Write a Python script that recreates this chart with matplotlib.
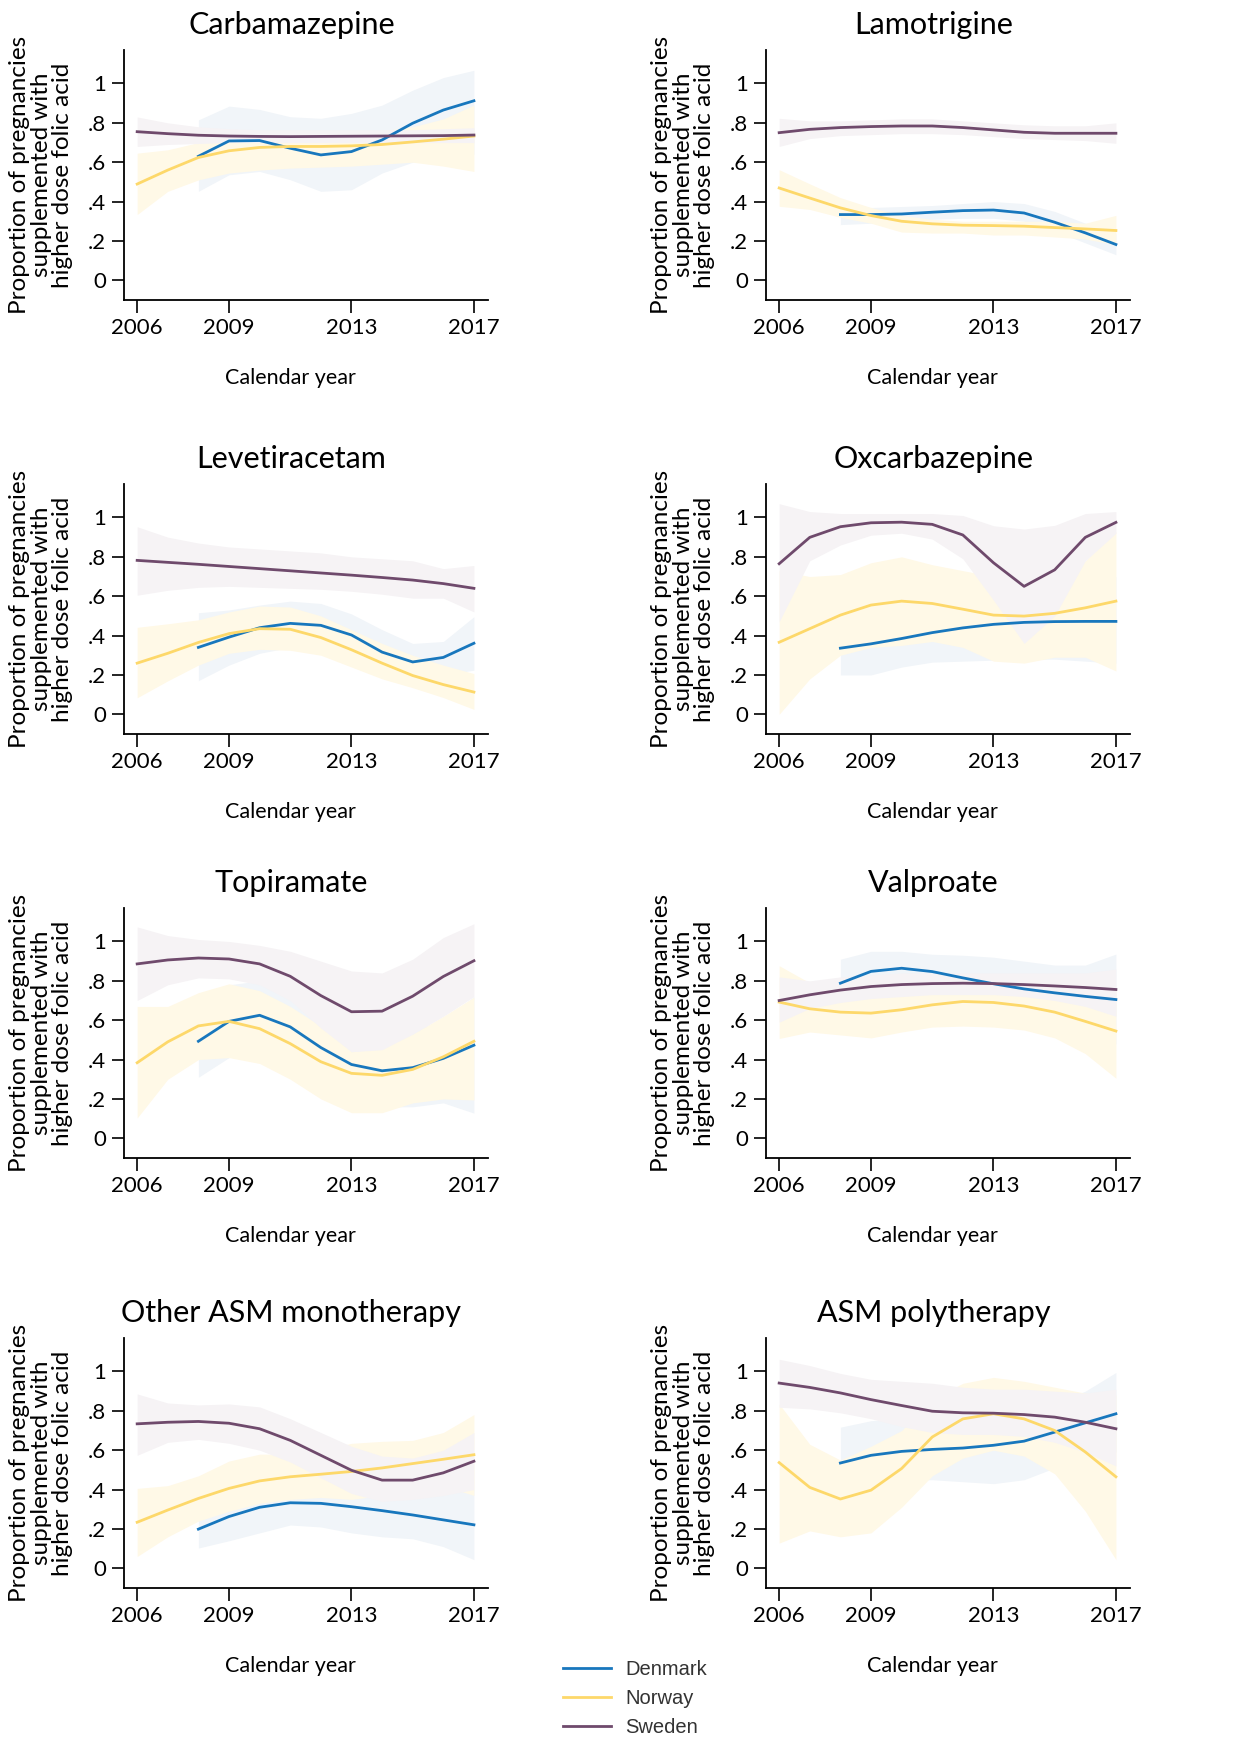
import numpy as np
import matplotlib
matplotlib.use("Agg")
import matplotlib.pyplot as plt
from matplotlib.lines import Line2D

plt.rcParams['font.family'] = ['Lato', 'DejaVu Sans']

years = list(range(2006, 2018))
NA = np.nan

# Carbamazepine
carb_dk    = [NA, NA, .63, .708, .71, .671, .637, .654, .713, .798, .865, .912]
carb_dk_lo = [NA, NA, .452, .536, .553, .511, .452, .46, .545, .60, .62, .64]
carb_dk_hi = [NA, NA, .815, .885, .868, .831, .823, .848, .89, .966, 1.03, 1.067]
carb_no    = [.489, .56, .624, .658, .675, .68, .68, .683, .69, .703, .717, .733]
carb_no_lo = [.334, .452, .51, .545, .56, .57, .575, .58, .59, .60, .58, .553]
carb_no_hi = [.646, .663, .70, .72, .735, .74, .745, .75, .76, .78, .82, .89]
carb_se    = [.755, .745, .737, .733, .731, .73, .731, .732, .733, .734, .735, .738]
carb_se_lo = [.68, .69, .695, .70, .70, .70, .70, .70, .70, .70, .70, .70]
carb_se_hi = [.83, .80, .78, .77, .765, .765, .765, .765, .765, .765, .77, .775]

# Lamotrigine
lamo_dk    = [NA, NA, .334, .334, .337, .346, .354, .357, .342, .295, .241, .182]
lamo_dk_lo = [NA, NA, .283, .29, .30, .31, .315, .315, .30, .25, .19, .13]
lamo_dk_hi = [NA, NA, .37, .37, .375, .38, .39, .40, .39, .35, .29, .235]
lamo_no    = [.469, .418, .368, .329, .30, .287, .28, .278, .275, .268, .261, .253]
lamo_no_lo = [.376, .36, .32, .29, .245, .24, .24, .23, .23, .22, .21, .18]
lamo_no_hi = [.562, .49, .42, .37, .33, .31, .30, .30, .30, .30, .29, .33]
lamo_se    = [.75, .767, .776, .781, .784, .784, .776, .764, .752, .747, .747, .747]
lamo_se_lo = [.68, .72, .735, .74, .745, .745, .74, .73, .72, .715, .71, .696]
lamo_se_hi = [.823, .81, .81, .815, .82, .82, .81, .80, .79, .785, .785, .80]

# Levetiracetam
leve_dk    = [NA, NA, .34, .392, .44, .462, .452, .403, .316, .266, .289, .361]
leve_dk_lo = [NA, NA, .171, .25, .31, .34, .34, .30, .23, .18, .20, .224]
leve_dk_hi = [NA, NA, .516, .53, .555, .575, .563, .51, .43, .36, .37, .496]
leve_no    = [.26, .31, .365, .41, .435, .432, .39, .328, .26, .197, .151, .113]
leve_no_lo = [.084, .17, .25, .31, .33, .325, .30, .24, .18, .135, .085, .025]
leve_no_hi = [.442, .46, .48, .52, .55, .545, .50, .43, .36, .30, .25, .207]
leve_se    = [.782, .772, .762, .751, .740, .729, .718, .707, .695, .682, .664, .640]
leve_se_lo = [.605, .63, .645, .65, .645, .64, .635, .625, .61, .59, .59, .52]
leve_se_hi = [.953, .90, .87, .85, .84, .83, .82, .80, .79, .78, .74, .756]

# Oxcarbazepine
oxca_dk    = [NA, NA, .336, .358, .385, .415, .439, .457, .467, .471, .472, .472]
oxca_dk_lo = [NA, NA, .20, .20, .24, .265, .27, .275, .28, .28, .27, .26]
oxca_dk_hi = [NA, NA, .48, .52, .54, .58, .61, .64, .66, .67, .68, .70]
oxca_no    = [.366, .435, .504, .555, .575, .563, .534, .504, .499, .513, .541, .575]
oxca_no_lo = [.0, .18, .30, .34, .35, .37, .34, .27, .26, .29, .29, .22]
oxca_no_hi = [.73, .70, .71, .77, .80, .76, .73, .70, .74, .74, .78, .93]
oxca_se    = [.765, .899, .953, .973, .976, .965, .911, .77, .65, .734, .899, .975]
oxca_se_lo = [.47, .78, .86, .91, .92, .89, .79, .58, .36, .50, .78, .92]
oxca_se_hi = [1.07, 1.03, 1.02, 1.02, 1.02, 1.02, 1.01, .958, .941, .96, 1.02, 1.03]

# Topiramate
topi_dk    = [NA, NA, .493, .594, .625, .566, .461, .375, .343, .359, .406, .473]
topi_dk_lo = [NA, NA, .31, .41, .44, .38, .29, .20, .16, .16, .18, .128]
topi_dk_hi = [NA, NA, .68, .78, .80, .75, .63, .55, .53, .55, .60, .72]
topi_no    = [.384, .49, .571, .594, .557, .481, .389, .33, .32, .35, .414, .493]
topi_no_lo = [.103, .30, .40, .41, .38, .30, .20, .13, .13, .18, .20, .195]
topi_no_hi = [.67, .67, .74, .785, .75, .67, .57, .44, .46, .53, .62, .717]
topi_se    = [.886, .906, .916, .911, .886, .823, .725, .643, .646, .722, .822, .902]
topi_se_lo = [.70, .78, .815, .81, .78, .70, .56, .44, .45, .53, .62, .72]
topi_se_hi = [1.074, 1.03, 1.01, 1.0, .98, .95, .90, .85, .84, .91, 1.02, 1.09]

# Valproate
valp_dk    = [NA, NA, .788, .848, .864, .847, .815, .785, .759, .739, .721, .705]
valp_dk_lo = [NA, NA, .67, .74, .77, .76, .71, .65, .62, .60, .56, .48]
valp_dk_hi = [NA, NA, .91, .95, .95, .935, .93, .92, .90, .88, .88, .936]
valp_no    = [.692, .658, .641, .636, .653, .678, .695, .69, .672, .641, .594, .545]
valp_no_lo = [.507, .54, .525, .51, .54, .565, .57, .565, .55, .51, .43, .305]
valp_no_hi = [.877, .79, .76, .76, .77, .79, .80, .80, .79, .77, .75, .76]
valp_se    = [.70, .729, .753, .771, .781, .786, .788, .786, .781, .774, .766, .756]
valp_se_lo = [.59, .66, .69, .71, .72, .73, .73, .73, .72, .70, .67, .62]
valp_se_hi = [.82, .80, .82, .83, .84, .84, .84, .84, .84, .84, .84, .86]

# Other ASM monotherapy
othr_dk    = [NA, NA, .199, .263, .31, .333, .33, .313, .293, .271, .246, .221]
othr_dk_lo = [NA, NA, .103, .14, .18, .22, .21, .18, .16, .15, .11, .044]
othr_dk_hi = [NA, NA, .33, .38, .43, .45, .45, .44, .42, .40, .39, .40]
othr_no    = [.234, .296, .355, .406, .444, .465, .478, .492, .51, .532, .554, .577]
othr_no_lo = [.06, .16, .24, .29, .33, .35, .36, .35, .37, .40, .42, .37]
othr_no_hi = [.406, .42, .47, .545, .58, .58, .60, .635, .645, .65, .69, .781]
othr_se    = [.734, .742, .746, .737, .709, .65, .574, .498, .448, .448, .485, .544]
othr_se_lo = [.574, .64, .655, .635, .60, .54, .46, .38, .34, .35, .37, .40]
othr_se_hi = [.886, .84, .83, .835, .82, .76, .69, .62, .57, .56, .60, .69]

# ASM polytherapy
poly_dk    = [NA, NA, .535, .574, .594, .604, .611, .625, .646, .692, .739, .785]
poly_dk_lo = [NA, NA, .42, .46, .45, .45, .44, .43, .45, .51, .56, .59]
poly_dk_hi = [NA, NA, .717, .75, .76, .76, .77, .79, .81, .84, .90, .995]
poly_no    = [.537, .411, .352, .397, .507, .667, .759, .785, .759, .70, .591, .465]
poly_no_lo = [.128, .19, .16, .18, .31, .47, .56, .60, .57, .48, .29, .044]
poly_no_hi = [.835, .63, .55, .62, .70, .86, .94, .97, .95, .92, .89, .88]
poly_se    = [.941, .919, .891, .857, .827, .798, .79, .788, .781, .768, .742, .709]
poly_se_lo = [.818, .81, .79, .76, .72, .69, .68, .68, .67, .64, .59, .52]
poly_se_hi = [1.062, 1.03, .99, .96, .95, .94, .92, .91, .91, .90, .89, .91]

countries = ['Denmark', 'Norway', 'Sweden']
colors = {'Denmark': '#1877bd', 'Norway': '#fdd86a', 'Sweden': '#6f4a6c'}
band_colors = {'Denmark': '#f1f5f9', 'Norway': '#fff9e7', 'Sweden': '#f6f3f5'}

panels = [
    ('Carbamazepine', [(carb_dk, carb_dk_lo, carb_dk_hi), (carb_no, carb_no_lo, carb_no_hi), (carb_se, carb_se_lo, carb_se_hi)]),
    ('Lamotrigine', [(lamo_dk, lamo_dk_lo, lamo_dk_hi), (lamo_no, lamo_no_lo, lamo_no_hi), (lamo_se, lamo_se_lo, lamo_se_hi)]),
    ('Levetiracetam', [(leve_dk, leve_dk_lo, leve_dk_hi), (leve_no, leve_no_lo, leve_no_hi), (leve_se, leve_se_lo, leve_se_hi)]),
    ('Oxcarbazepine', [(oxca_dk, oxca_dk_lo, oxca_dk_hi), (oxca_no, oxca_no_lo, oxca_no_hi), (oxca_se, oxca_se_lo, oxca_se_hi)]),
    ('Topiramate', [(topi_dk, topi_dk_lo, topi_dk_hi), (topi_no, topi_no_lo, topi_no_hi), (topi_se, topi_se_lo, topi_se_hi)]),
    ('Valproate', [(valp_dk, valp_dk_lo, valp_dk_hi), (valp_no, valp_no_lo, valp_no_hi), (valp_se, valp_se_lo, valp_se_hi)]),
    ('Other ASM monotherapy', [(othr_dk, othr_dk_lo, othr_dk_hi), (othr_no, othr_no_lo, othr_no_hi), (othr_se, othr_se_lo, othr_se_hi)]),
    ('ASM polytherapy', [(poly_dk, poly_dk_lo, poly_dk_hi), (poly_no, poly_no_lo, poly_no_hi), (poly_se, poly_se_lo, poly_se_hi)]),
]

fig = plt.figure(figsize=(12.4, 17.37), dpi=100)

W, H = 1240, 1737
col_left = [124, 766]
row_bottom = [300, 734, 1158, 1588]
ax_w, ax_h = 364, 250

ylab = 'Proportion of pregnancies\nsupplemented with\nhigher dose folic acid'

for i, (title, series) in enumerate(panels):
    r, c = divmod(i, 2)
    ax = fig.add_axes([col_left[c] / W, 1 - row_bottom[r] / H, ax_w / W, ax_h / H])
    # pale bands, drawn in order so later ones sit on top
    for country, (m, lo, hi) in zip(countries, series):
        ax.fill_between(years, np.array(lo, float), np.array(hi, float),
                        color=band_colors[country], lw=0)
    for country, (m, lo, hi) in zip(countries, series):
        ax.plot(years, m, color=colors[country], lw=2.0)
    ax.set_xlim(2005.57, 2017.46)
    ax.set_ylim(-0.1, 1.17)
    ax.set_xticks([2006, 2009, 2013, 2017])
    ax.set_yticks([0, .2, .4, .6, .8, 1])
    ax.set_yticklabels(['0', '.2', '.4', '.6', '.8', '1'])
    ax.tick_params(axis='both', labelsize=16, length=9, width=1.2, pad=4)
    for s in ['top', 'right']:
        ax.spines[s].set_visible(False)
    for s in ['left', 'bottom']:
        ax.spines[s].set_linewidth(1.3)
    ax.set_xlabel('Calendar year', fontsize=15.5)
    ax.xaxis.set_label_coords(0.457, -0.27)
    ax.set_ylabel(ylab, fontsize=17.5, linespacing=1.02)
    ax.yaxis.set_label_coords(-0.14, 0.5)
    ax.text(0.46, 1.1, title, transform=ax.transAxes, ha='center', va='center', fontsize=22)

handles = [Line2D([], [], color=colors[k], lw=2) for k in countries]
fig.legend(handles, countries, loc='upper left', bbox_to_anchor=(545 / W, 1 - 1642 / H),
           frameon=False, handlelength=2.4, handletextpad=0.7, labelspacing=0.5,
           prop={'family': 'Liberation Sans', 'size': 14.5}, labelcolor='#333333')

fig.savefig('out.png', dpi=100)
